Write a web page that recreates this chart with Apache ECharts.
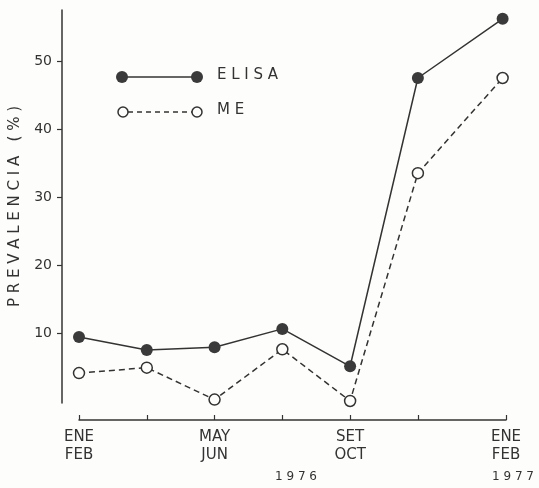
<!DOCTYPE html>
<html>
<head>
<meta charset="utf-8">
<script src="https://cdn.jsdelivr.net/npm/echarts@6/dist/echarts.min.js"></script>
<style>
  html, body { margin: 0; padding: 0; background: #fdfdfb; }
  #chart { width: 539px; height: 488px; }
</style>
</head>
<body>
<div id="chart"></div>
<script>
// periods (bi-monthly, 1976 -> 1977); last one is drawn a bit further out
const periods = [0, 1, 2, 3, 4, 5, 6.25]
const elisa = [9.4, 7.5, 7.9, 10.6, 5.1, 47.5, 56.2]
const me = [4.1, 4.9, 0.2, 7.6, 0, 33.5, 47.5]
const xTicks = [0, 1, 2, 3, 4, 5, 6.3]
const xLabelPos = [0, 2, 4, 6.3]
const xLabels = ['ENE\nFEB', 'MAY\nJUN', 'SET\nOCT', 'ENE\nFEB']
const yTicks = [10, 20, 30, 40, 50]

const ink = '#333'
const chart = echarts.init(document.getElementById('chart'))

const pairs = vals => vals.map((v, i) => [periods[i], v])

chart.setOption({
  backgroundColor: '#fdfdfb',
  animation: false,
  grid: { left: 78, top: 10, width: 428, bottom: 85 },
  xAxis: {
    type: 'value',
    min: 0,
    max: 6.3,
    offset: 17,
    splitLine: { show: false },
    axisLine: { onZero: false, lineStyle: { color: ink, width: 1.5 } },
    axisTick: { inside: true, length: 5, lineStyle: { color: ink, width: 1.2 }, customValues: xTicks },
    axisLabel: {
      customValues: xLabelPos,
      formatter: v => xLabels[xLabelPos.indexOf(v)] || '',
      color: ink,
      fontFamily: 'DejaVu Sans',
      fontSize: 15,
      lineHeight: 18,
      margin: 8,
      showMinLabel: true,
      showMaxLabel: true
    }
  },
  yAxis: {
    type: 'value',
    min: -0.3,
    max: 57.5,
    offset: 17,
    splitLine: { show: false },
    name: 'P R E V A L E N C I A   ( % )',
    nameLocation: 'middle',
    nameRotate: 90,
    nameGap: 39,
    nameTextStyle: { color: ink, fontFamily: 'DejaVu Sans', fontSize: 15 },
    axisLine: { show: true, onZero: false, lineStyle: { color: ink, width: 1.5 } },
    axisTick: { show: true, length: 5, lineStyle: { color: ink, width: 1.2 }, customValues: yTicks },
    axisLabel: {
      customValues: yTicks,
      color: ink,
      fontFamily: 'DejaVu Sans',
      fontSize: 14,
      margin: 10
    }
  },
  series: [
    {
      name: 'ELISA',
      type: 'line',
      data: pairs(elisa),
      symbol: 'circle',
      symbolSize: 12,
      itemStyle: { color: '#3a3a3a' },
      lineStyle: { color: ink, width: 1.5 }
    },
    {
      name: 'ME',
      type: 'line',
      data: pairs(me),
      symbol: 'circle',
      symbolSize: 11,
      itemStyle: { color: '#fdfdfb', borderColor: ink, borderWidth: 1.5 },
      lineStyle: { color: ink, width: 1.5, type: [6, 4] }
    }
  ],
  graphic: [
    // legend
    { type: 'line', shape: { x1: 122, y1: 77, x2: 197, y2: 77 }, style: { stroke: ink, lineWidth: 1.5 } },
    { type: 'circle', shape: { cx: 122, cy: 77, r: 6 }, style: { fill: '#3a3a3a' } },
    { type: 'circle', shape: { cx: 197, cy: 77, r: 6 }, style: { fill: '#3a3a3a' } },
    { type: 'text', left: 217, top: 68, style: { text: 'E L I S A', fill: ink, font: '15px DejaVu Sans' } },
    { type: 'line', shape: { x1: 128, y1: 112, x2: 192, y2: 112 }, style: { stroke: ink, lineWidth: 1.5, lineDash: [5, 4] } },
    { type: 'circle', shape: { cx: 123, cy: 112, r: 5 }, style: { fill: '#fdfdfb', stroke: ink, lineWidth: 1.5 } },
    { type: 'circle', shape: { cx: 197, cy: 112, r: 5 }, style: { fill: '#fdfdfb', stroke: ink, lineWidth: 1.5 } },
    { type: 'text', left: 217, top: 103, style: { text: 'M E', fill: ink, font: '15px DejaVu Sans' } },
    // years
    { type: 'text', left: 275, top: 471, style: { text: '1 9 7 6', fill: ink, font: '12px DejaVu Sans' } },
    { type: 'text', left: 492, top: 471, style: { text: '1 9 7 7', fill: ink, font: '12px DejaVu Sans' } }
  ]
})
</script>
</body>
</html>
